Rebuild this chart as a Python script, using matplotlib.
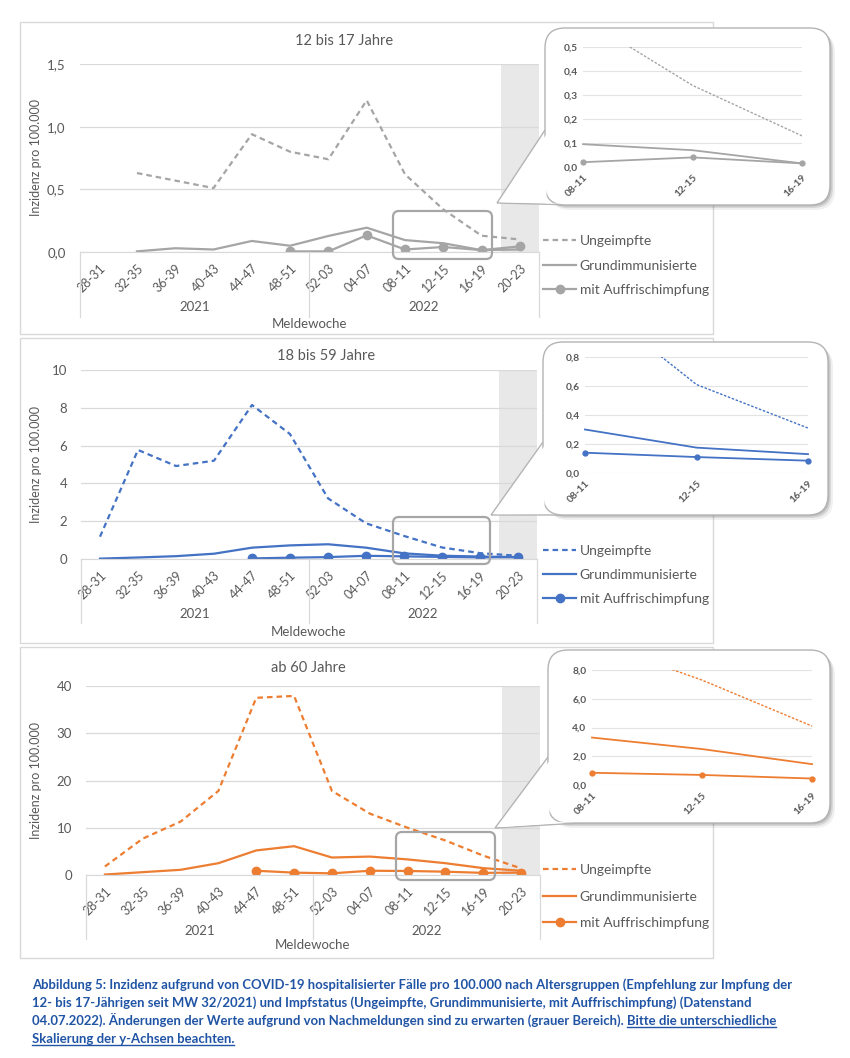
import matplotlib
matplotlib.use('Agg')
import matplotlib.pyplot as plt
import matplotlib.font_manager as fm
import matplotlib.transforms as mtransforms
from matplotlib.patches import FancyBboxPatch, Polygon, Rectangle
from matplotlib.lines import Line2D
import numpy as np

nan = np.nan
W, H = 850, 1058

# categories
weeks = ['28-31', '32-35', '36-39', '40-43', '44-47', '48-51',
         '52-03', '04-07', '08-11', '12-15', '16-19', '20-23']
years = ['2021', '2022']
series_names = ['Ungeimpfte', 'Grundimmunisierte', 'mit Auffrischimpfung']

# 12 bis 17 Jahre
teen_ungeimpft = [nan, 0.63, 0.57, 0.51, 0.94, 0.80, 0.74, 1.21, 0.62, 0.34, 0.13, 0.10]
teen_grund = [nan, 0.005, 0.03, 0.02, 0.088, 0.05, 0.128, 0.194, 0.095, 0.07, 0.015, 0.02]
teen_booster = [nan, nan, nan, nan, nan, 0.005, 0.005, 0.133, 0.02, 0.04, 0.015, 0.045]

# 18 bis 59 Jahre
adult_ungeimpft = [1.18, 5.77, 4.92, 5.2, 8.15, 6.61, 3.21, 1.89, 1.22, 0.61, 0.31, 0.17]
adult_grund = [0.02, 0.08, 0.15, 0.28, 0.6, 0.72, 0.78, 0.6, 0.30, 0.175, 0.13, 0.10]
adult_booster = [nan, nan, nan, nan, 0.03, 0.07, 0.1, 0.17, 0.14, 0.11, 0.085, 0.1]

# ab 60 Jahre
senior_ungeimpft = [1.8, 7.7, 11.3, 17.8, 37.5, 37.9, 17.8, 13.0, 10.0, 7.3, 4.1, 1.4]
senior_grund = [0.1, 0.6, 1.1, 2.5, 5.2, 6.1, 3.7, 3.9, 3.3, 2.5, 1.45, 0.9]
senior_booster = [nan, nan, nan, nan, 0.9, 0.5, 0.35, 0.9, 0.85, 0.7, 0.45, 0.5]

caption_lines = [
    'Abbildung 5: Inzidenz aufgrund von COVID-19 hospitalisierter Fälle pro 100.000 nach Altersgruppen (Empfehlung zur Impfung der',
    '12- bis 17-Jährigen seit MW 32/2021) und Impfstatus (Ungeimpfte, Grundimmunisierte, mit Auffrischimpfung) (Datenstand',
    '04.07.2022). Änderungen der Werte aufgrund von Nachmeldungen sind zu erwarten (grauer Bereich).',
    'Bitte die unterschiedliche',
    'Skalierung der y-Achsen beachten.',
]

plt.rcParams['font.family'] = ['Lato', 'DejaVu Sans']
TXT = '#595959'
GRID = '#d9d9d9'


def px_rect(l, t, r, b):
    return [l / W, 1 - b / H, (r - l) / W, (b - t) / H]


def comma(v, nd):
    return f'{v:.{nd}f}'.replace('.', ',')


panels = [
    dict(title='12 bis 17 Jahre', color='#a5a5a5',
         data=(teen_ungeimpft, teen_grund, teen_booster),
         yticks=[0, 0.5, 1.0, 1.5], ynd=1, iyticks=[0, 0.1, 0.2, 0.3, 0.4, 0.5], iynd=1,
         frame=(20, 22, 713, 334), plot=(79.5, 64, 539, 252), title_xy=(344, 41),
         year_y=307, mw_y=324, sep_y=317, leg_y=242, leg_sp=0.9,
         hl=(393, 211, 492, 259), bubble=(545, 28, 830, 205), apex=(497, 203), joint=130,
         inset=(583, 47, 802, 167)),
    dict(title='18 bis 59 Jahre', color='#4472c4',
         data=(adult_ungeimpft, adult_grund, adult_booster),
         yticks=[0, 2, 4, 6, 8, 10], ynd=0, iyticks=[0, 0.2, 0.4, 0.6, 0.8], iynd=1,
         frame=(20, 338, 713, 643), plot=(81, 370, 537, 559), title_xy=(326, 356),
         year_y=614, mw_y=632, sep_y=623, leg_y=552, leg_sp=0.87,
         hl=(393, 517, 490, 564), bubble=(543, 342, 828, 515), apex=(491, 515), joint=442,
         inset=(585, 357, 808, 473)),
    dict(title='ab 60 Jahre', color='#ed7d31',
         data=(senior_ungeimpft, senior_grund, senior_booster),
         yticks=[0, 10, 20, 30, 40], ynd=0, iyticks=[0, 2, 4, 6, 8], iynd=1,
         frame=(20, 647, 713, 958), plot=(86, 686, 540, 875), title_xy=(308, 668),
         year_y=931, mw_y=945, sep_y=939, leg_y=871, leg_sp=1.05,
         hl=(396, 832, 495, 880), bubble=(548, 650, 830, 823), apex=(495, 828), joint=757,
         inset=(592, 670, 812, 785)),
]

fig = plt.figure(figsize=(W / 100, H / 100), dpi=100)

back = fig.add_axes([0, 0, 1, 1], zorder=0)
back.set_xlim(0, W)
back.set_ylim(H, 0)
back.axis('off')

over = fig.add_axes([0, 0, 1, 1], zorder=3)
over.set_xlim(0, W)
over.set_ylim(H, 0)
over.axis('off')
over.patch.set_alpha(0)

x = np.arange(len(weeks))
zoom = slice(8, 11)  # 08-11 .. 16-19 shown in the callout

for p in panels:
    c = p['color']
    ung, grund, boost = p['data']
    fl, ft, fr, fb = p['frame']
    back.add_patch(Rectangle((fl, ft), fr - fl, fb - ft, fc='white', ec=GRID, lw=1))

    # main chart
    l, t, r, b = p['plot']
    ax = fig.add_axes(px_rect(l, t, r, b), zorder=1)
    ax.patch.set_alpha(0)
    ax.axvspan(10.5, 11.5, color='#e8e8e8', zorder=0, lw=0)
    l1, = ax.plot(x, ung, color=c, lw=1.6, ls=(0, (2.5, 1.8)))
    l2, = ax.plot(x, grund, color=c, lw=1.6)
    l3, = ax.plot(x, boost, color=c, lw=1.6, marker='o', ms=6)
    ax.set_xlim(-0.5, 11.5)
    ax.set_ylim(0, p['yticks'][-1])
    ax.set_yticks(p['yticks'], [comma(v, p['ynd']) for v in p['yticks']])
    ax.set_xticks(x, weeks)
    for lab in ax.get_xticklabels():
        lab.set_rotation(45)
        lab.set_ha('right')
        lab.set_va('top')
        lab.set_rotation_mode('anchor')
    ax.grid(axis='y', color=GRID, lw=0.9)
    ax.set_axisbelow(True)
    for s in ['top', 'right', 'left']:
        ax.spines[s].set_visible(False)
    ax.spines['bottom'].set_color(GRID)
    ax.tick_params(axis='y', length=0, colors=TXT, labelsize=9.5, pad=10)
    ax.tick_params(axis='x', length=0, colors=TXT, labelsize=9, pad=7)
    ax.set_ylabel('Inzidenz pro 100.000', color=TXT, fontsize=9)
    ax.yaxis.set_label_coords((42 - l) / (r - l), 0.5)

    blend = mtransforms.blended_transform_factory(ax.transData, ax.transAxes)
    hpx = b - t
    for xb in [-0.5, 5.5, 11.5]:
        ax.plot([xb, xb], [0, -(p['sep_y'] - b) / hpx], transform=blend,
                color=GRID, lw=0.9, clip_on=False)
    yf = -(p['year_y'] - b) / hpx
    ax.text(2.5, yf, years[0], transform=blend, ha='center', va='center', color=TXT, fontsize=9.5)
    ax.text(8.5, yf, years[1], transform=blend, ha='center', va='center', color=TXT, fontsize=9.5)
    ax.text(5.5, -(p['mw_y'] - b) / hpx, 'Meldewoche', transform=blend,
            ha='center', va='center', color=TXT, fontsize=9.5)

    over.text(p['title_xy'][0], p['title_xy'][1], p['title'], ha='center', va='center',
              color=TXT, fontsize=10.5)

    ax.legend([l1, l2, l3], series_names, loc='upper left',
              bbox_to_anchor=(543 / W, 1 - (p['leg_y'] - 7) / H), bbox_transform=fig.transFigure,
              frameon=False, fontsize=10, handlelength=2.4, handletextpad=0.25,
              labelspacing=p['leg_sp'], borderaxespad=0, borderpad=0, labelcolor=TXT)

    # highlight box on the main chart
    hl, ht, hr, hb = p['hl']
    over.add_patch(FancyBboxPatch((hl, ht), hr - hl, hb - ht,
                                  boxstyle='round,pad=0,rounding_size=6',
                                  fc='none', ec='#a6a6a6', lw=1.6))

    # callout bubble
    bl, bt, br, bb = p['bubble']
    ax_, ay_ = p['apex']
    rs = 'round,pad=0,rounding_size=20'
    for off, al in [(5, 0.06), (3, 0.10), (1.5, 0.12)]:
        over.add_patch(FancyBboxPatch((bl + off, bt + off), br - bl, bb - bt, boxstyle=rs,
                                      fc='black', ec='none', alpha=al))
    over.add_patch(Polygon([(ax_, ay_), (bl, p['joint']), (bl + 32, bb)], closed=True,
                           fc='white', ec='#b4b4b4', lw=1))
    over.add_patch(FancyBboxPatch((bl, bt), br - bl, bb - bt, boxstyle=rs,
                                  fc='white', ec='#b4b4b4', lw=1))
    over.add_patch(Polygon([(ax_ + 5, ay_ - 0.8), (bl + 1.5, p['joint'] + 4),
                            (bl + 1.5, bb - 1.2), (bl + 29, bb - 1.2)],
                           closed=True, fc='white', ec='none'))

    # inset chart
    il, it, ir, ib = p['inset']
    ins = fig.add_axes(px_rect(il, it, ir, ib), zorder=4)
    ins.patch.set_alpha(0)
    ins.plot(x, ung, color=c, lw=1.0, ls=(0, (1.8, 1.2)))
    ins.plot(x[zoom], grund[zoom], color=c, lw=1.3, clip_on=False)
    ins.plot(x[zoom], boost[zoom], color=c, lw=1.3, marker='o', ms=3.5, clip_on=False)
    ins.set_xlim(8, 10)
    ins.set_ylim(0, p['iyticks'][-1])
    ins.set_yticks(p['iyticks'], [comma(v, p['iynd']) for v in p['iyticks']])
    ins.set_xticks([8, 9, 10], weeks[zoom])
    for lab in ins.get_xticklabels():
        lab.set_rotation(45)
        lab.set_ha('right')
        lab.set_va('top')
        lab.set_rotation_mode('anchor')
    ins.grid(axis='y', color='#e3e3e3', lw=0.8)
    ins.set_axisbelow(True)
    for s in ins.spines.values():
        s.set_visible(False)
    ins.tick_params(length=0, colors=TXT, labelsize=7.3, pad=4)
    for lab in ins.get_xticklabels() + ins.get_yticklabels():
        lab.set_fontweight('bold')

# caption
names = {f.name for f in fm.fontManager.ttflist}
cap_font = 'Liberation Sans Narrow' if 'Liberation Sans Narrow' in names else 'Lato'
cap_color = '#2054a5'
renderer = fig.canvas.get_renderer()
baselines = [989, 1007, 1025, 1043]
cx = 32

t0 = over.text(cx, baselines[0], caption_lines[0], fontsize=10, fontweight='bold',
               family=cap_font, color=cap_color, va='baseline')
w0 = t0.get_window_extent(renderer).width
size = 10 * 762 / w0
t0.set_fontsize(size)
over.text(cx, baselines[1], caption_lines[1], fontsize=size, fontweight='bold',
          family=cap_font, color=cap_color, va='baseline')
ta = over.text(cx, baselines[2], caption_lines[2], fontsize=size, fontweight='bold',
               family=cap_font, color=cap_color, va='baseline')
xa = ta.get_window_extent(renderer).x1 + size * 100 / 72 * 0.25
tb = over.text(xa, baselines[2], caption_lines[3], fontsize=size, fontweight='bold',
               family=cap_font, color=cap_color, va='baseline')
tc = over.text(cx, baselines[3], caption_lines[4], fontsize=size, fontweight='bold',
               family=cap_font, color=cap_color, va='baseline')
for tt, yb in [(tb, baselines[2]), (tc, baselines[3])]:
    e = tt.get_window_extent(renderer)
    over.add_line(Line2D([e.x0, e.x1], [yb + 2.2, yb + 2.2], color=cap_color, lw=1))

fig.savefig('out.png', dpi=100)
